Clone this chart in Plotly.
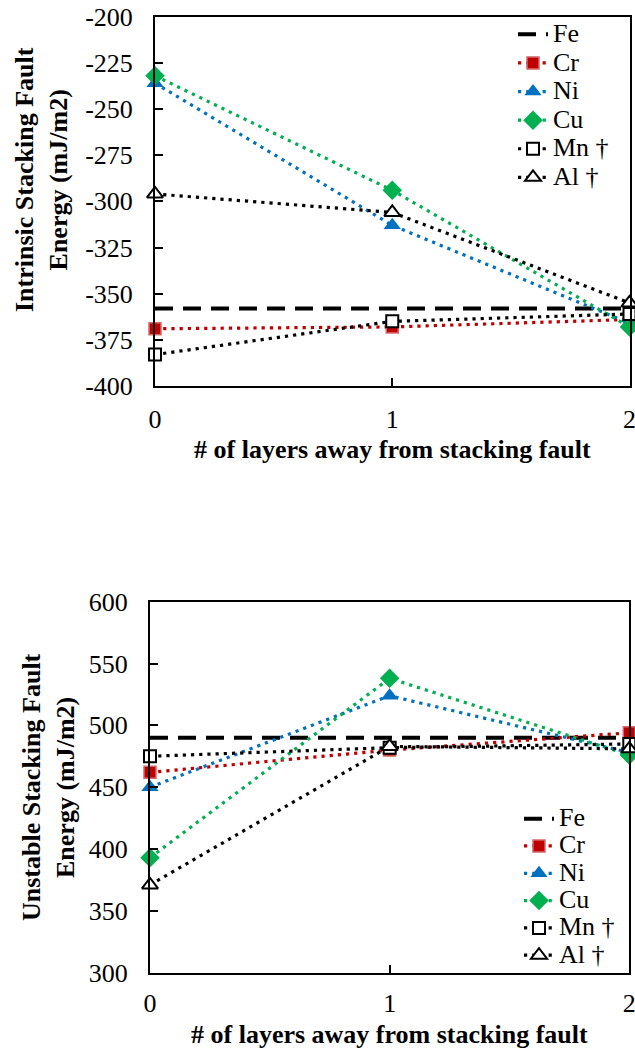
import plotly.graph_objects as go

# ---- data -------------------------------------------------------------
layers = [0, 1, 2]
layer_ticks = ["0", "1", "2"]

# Intrinsic stacking fault energy (mJ/m2)
isf_fe = [-358, -358, -358]
isf_cr = [-369, -368, -364]
isf_ni = [-236, -313, -366]
isf_cu = [-232, -294, -368]
isf_mn = [-383, -365, -361]
isf_al = [-296, -306, -355]
isf_tickvals = [-400, -375, -350, -325, -300, -275, -250, -225, -200]
isf_ticktext = ["-400", "-375", "-350", "-325", "-300", "-275", "-250", "-225", "-200"]

# Unstable stacking fault energy (mJ/m2)
usf_fe = [490, 490, 490]
usf_cr = [462, 480, 494]
usf_ni = [450, 524, 478]
usf_cu = [393, 538, 476]
usf_mn = [475, 482, 485]
usf_al = [371, 483, 481]
usf_tickvals = [300, 350, 400, 450, 500, 550, 600]
usf_ticktext = ["300", "350", "400", "450", "500", "550", "600"]

names = ["Fe", "Cr", "Ni", "Cu", "Mn †", "Al †"]

# ---- styles -----------------------------------------------------------
FONT = "Liberation Serif"
DOT = "3.2px,5px"
LW = 3.2
styles = {
    "Fe": dict(line=dict(color="black", width=4, dash="18px,10px"), mode="lines", marker=None),
    "Cr": dict(line=dict(color="#C00000", width=LW, dash=DOT), mode="lines+markers",
               marker=dict(symbol="square", size=12, color="#C00000",
                           line=dict(color="#D46A6A", width=1.5))),
    "Ni": dict(line=dict(color="#0070C0", width=LW, dash=DOT), mode="lines+markers",
               marker=dict(symbol="triangle-up", size=15, color="#0070C0",
                           line=dict(width=0))),
    "Cu": dict(line=dict(color="#00B050", width=LW, dash=DOT), mode="lines+markers",
               marker=dict(symbol="diamond", size=15, color="#00B050",
                           line=dict(width=0))),
    "Mn †": dict(line=dict(color="black", width=LW, dash=DOT), mode="lines+markers",
                 marker=dict(symbol="square", size=12, color="white",
                             line=dict(color="black", width=2))),
    "Al †": dict(line=dict(color="black", width=LW, dash=DOT), mode="lines+markers",
                 marker=dict(symbol="triangle-up", size=14, color="white",
                             line=dict(color="black", width=2))),
}

fig = go.Figure()

panels = [
    ("x", "y", "legend", [isf_fe, isf_cr, isf_ni, isf_cu, isf_mn, isf_al]),
    ("x2", "y2", "legend2", [usf_fe, usf_cr, usf_ni, usf_cu, usf_mn, usf_al]),
]
for xa, ya, lg, series in panels:
    for name, vals in zip(names, series):
        st = styles[name]
        kw = dict(
            x=layers, y=vals, mode=st["mode"], line=st["line"],
            name="<span style='font-size:26px'>%s</span>" % name,
            xaxis=xa, yaxis=ya, legend=lg, cliponaxis=False,
        )
        if st["marker"] is not None:
            kw["marker"] = st["marker"]
        fig.add_trace(go.Scatter(**kw))

W, H = 635, 1051
tickfont = dict(family=FONT, size=26, color="black")
axis_common = dict(
    showline=True, mirror=True, linecolor="black", linewidth=2,
    showgrid=False, zeroline=False, ticks="inside", ticklen=8, tickwidth=2,
    tickcolor="black", tickfont=tickfont, ticklabeloverflow="allow",
    automargin=False,
)

fig.update_layout(
    width=W, height=H,
    margin=dict(l=0, r=0, t=0, b=0),
    paper_bgcolor="white", plot_bgcolor="white",
    font=dict(family=FONT, color="black"),
    xaxis=dict(domain=[155 / W, 629.5 / W], anchor="y", range=[0, 2],
               tickvals=layers, ticktext=layer_ticks, ticklabelstandoff=9, **axis_common),
    yaxis=dict(domain=[1 - 386 / H, 1 - 16.7 / H], anchor="x", range=[-400, -200],
               tickvals=isf_tickvals, ticktext=isf_ticktext, ticklabelstandoff=15,
               **axis_common),
    xaxis2=dict(domain=[150 / W, 629.3 / W], anchor="y2", range=[0, 2],
                tickvals=layers, ticktext=layer_ticks, ticklabelstandoff=6, **axis_common),
    yaxis2=dict(domain=[1 - 972.7 / H, 1 - 601.7 / H], anchor="x2", range=[300, 600],
                tickvals=usf_tickvals, ticktext=usf_ticktext, ticklabelstandoff=15,
                **axis_common),
    legend=dict(x=513 / W, xanchor="left", y=1 - 15 / H, yanchor="top",
                bgcolor="rgba(0,0,0,0)", font=dict(family=FONT, size=19.7, color="black"),
                tracegroupgap=0),
    legend2=dict(x=519 / W, xanchor="left", y=1 - 800 / H, yanchor="top",
                 bgcolor="rgba(0,0,0,0)", font=dict(family=FONT, size=18.7, color="black"),
                 tracegroupgap=0),
    showlegend=True,
)

title_font = dict(family=FONT, size=26, color="black")
fig.add_annotation(xref="paper", yref="paper", x=(155 + 629.5) / 2 / W, y=1 - 449 / H,
                   text="<b># of layers away from stacking fault</b>", showarrow=False,
                   xanchor="center", yanchor="middle", font=title_font)
fig.add_annotation(xref="paper", yref="paper", x=(150 + 629.3) / 2 / W, y=1 - 1034 / H,
                   text="<b># of layers away from stacking fault</b>", showarrow=False,
                   xanchor="center", yanchor="middle", font=title_font)
fig.add_annotation(xref="paper", yref="paper", x=42 / W, y=1 - 180 / H, textangle=-90,
                   text="<b>Intrinsic Stacking Fault<br>Energy (mJ/m2)</b>", showarrow=False,
                   xanchor="center", yanchor="middle", font=title_font)
fig.add_annotation(xref="paper", yref="paper", x=48 / W, y=1 - 787 / H, textangle=-90,
                   text="<b>Unstable Stacking Fault<br>Energy (mJ/m2)</b>", showarrow=False,
                   xanchor="center", yanchor="middle", font=title_font)

fig.write_html("out.html")
